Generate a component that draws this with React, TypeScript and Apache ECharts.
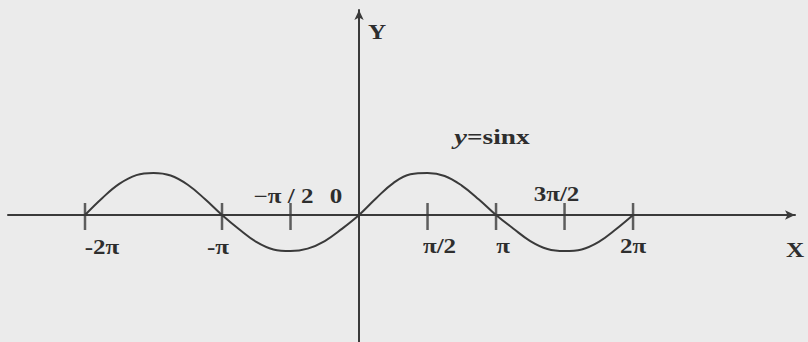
import React, { useEffect, useRef } from "react";
import * as echarts from "echarts";

// x positions in units of π, y values
const CURVE_X = [
  -2, -1.875, -1.75, -1.625, -1.5, -1.375, -1.25, -1.125,
  -1, -0.875, -0.75, -0.625, -0.5, -0.375, -0.25, -0.125,
  0, 0.125, 0.25, 0.375, 0.5, 0.625, 0.75, 0.875,
  1, 1.125, 1.25, 1.375, 1.5, 1.625, 1.75, 1.875, 2,
];
const CURVE_Y = [
  0, 0.4, 0.74, 0.95, 1, 0.94, 0.72, 0.38,
  0, -0.34, -0.64, -0.82, -0.86, -0.8, -0.62, -0.33,
  0, 0.4, 0.76, 0.97, 1, 0.93, 0.7, 0.37,
  0, -0.32, -0.62, -0.81, -0.86, -0.82, -0.64, -0.34, 0,
];
const TICKS = [-2, -1, -0.5, 0.5, 1, 1.5, 2];
const LABEL_AT = [-2, -1, -0.5, 0, 0.5, 1, 1.5, 2];
const LABEL_TEXT = ["-2π", "-π", "−π / 2", "0", "π/2", "π", "3π/2", "2π"];
const LABEL_OFFSET: [number, number][] = [
  [17, 32], [-4, 32], [-7, -19], [-23, -19], [12, 31], [7, 31], [-8, -21], [0, 31],
];

const INK = "#2e2e2e";
const LINE = "#3a3a3a";
const FONT = "'Liberation Serif', 'Times New Roman', serif";

export default function App() {
  const ref = useRef<HTMLDivElement>(null);
  useEffect(() => {
    if (!ref.current) return;
    const chart = echarts.init(ref.current, null, { renderer: "svg" });
    chart.setOption({
      animation: false,
      backgroundColor: "#ebebeb",
      grid: { left: 8, right: 13, top: 10, bottom: 0 },
      xAxis: {
        type: "value",
        min: -2.562,
        max: 3.182,
        axisLine: {
          show: true,
          onZero: true,
          symbol: ["none", "arrow"],
          symbolSize: [7, 10],
          lineStyle: { color: LINE, width: 2 },
        },
        axisTick: { show: false },
        axisLabel: { show: false },
        splitLine: { show: false },
      },
      yAxis: {
        type: "value",
        min: -3.024,
        max: 4.881,
        axisLine: {
          show: true,
          onZero: true,
          symbol: ["none", "arrow"],
          symbolSize: [7, 10],
          lineStyle: { color: LINE, width: 2 },
        },
        axisTick: { show: false },
        axisLabel: { show: false },
        splitLine: { show: false },
      },
      series: [
        {
          type: "line",
          data: CURVE_X.map((x, i) => [x, CURVE_Y[i]]),
          smooth: 0.4,
          showSymbol: false,
          lineStyle: { color: LINE, width: 2 },
        },
        {
          type: "scatter",
          data: TICKS.map((x) => [x, 0]),
          symbol: "rect",
          symbolSize: [2.5, 27],
          symbolOffset: [0, 1.5],
          itemStyle: { color: LINE },
        },
      ],
    });

    const labelGraphics = LABEL_AT.map((v, i) => {
      const p = chart.convertToPixel({ gridIndex: 0 }, [v, 0]) as number[];
      return {
        type: "text",
        x: p[0] + LABEL_OFFSET[i][0],
        y: p[1] + LABEL_OFFSET[i][1],
        scaleX: 1.25,
        style: {
          text: LABEL_TEXT[i],
          fill: INK,
          font: `bold 20px ${FONT}`,
          align: "center",
          verticalAlign: "middle",
        },
      };
    });

    chart.setOption({
      graphic: [
        ...labelGraphics,
        {
          type: "text",
          x: 795,
          y: 250,
          scaleX: 1.2,
          style: {
            text: "X",
            fill: INK,
            font: `bold 21px ${FONT}`,
            align: "center",
            verticalAlign: "middle",
          },
        },
        {
          type: "text",
          x: 377,
          y: 32,
          scaleX: 1.2,
          style: {
            text: "Y",
            fill: INK,
            font: `bold 21px ${FONT}`,
            align: "center",
            verticalAlign: "middle",
          },
        },
        {
          type: "text",
          x: 492,
          y: 137,
          scaleX: 1.3,
          style: {
            text: "{i|y}{b|=sinx}",
            fill: INK,
            align: "center",
            verticalAlign: "middle",
            rich: {
              i: { font: `italic bold 22px ${FONT}`, fill: INK },
              b: { font: `bold 21px ${FONT}`, fill: INK },
            },
          },
        },
      ],
    });
    return () => chart.dispose();
  }, []);
  return (
    <div
      ref={ref}
      style={{ position: "absolute", left: 0, top: 0, width: 808, height: 342 }}
    />
  );
}
